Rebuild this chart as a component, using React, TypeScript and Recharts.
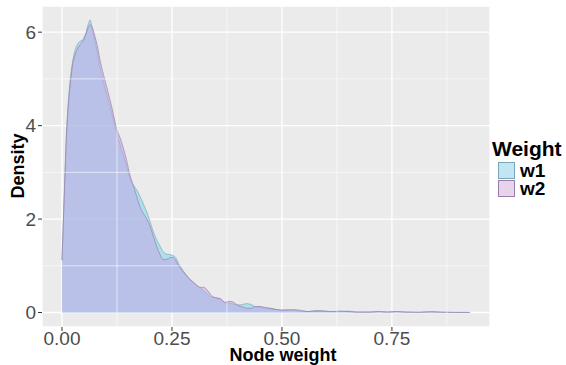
import { Area, AreaChart, CartesianGrid, Label, ReferenceLine, XAxis, YAxis } from "recharts";

const FONT = "'Liberation Sans', Arial, sans-serif";

// density estimates
const nodeWeight = [
  0, 0.005, 0.01, 0.015, 0.02, 0.025, 0.03, 0.035, 0.04, 0.045, 0.05, 0.055, 0.06, 0.064, 0.068, 0.075,
  0.08, 0.086, 0.094, 0.1, 0.105, 0.113, 0.12, 0.125, 0.132, 0.14, 0.147, 0.155, 0.162, 0.17, 0.177,
  0.185, 0.193, 0.2, 0.208, 0.215, 0.223, 0.23, 0.238, 0.245, 0.252, 0.258, 0.265, 0.275, 0.285, 0.295,
  0.305, 0.314, 0.322, 0.33, 0.34, 0.352, 0.36, 0.37, 0.38, 0.39, 0.4, 0.41, 0.42, 0.43, 0.44, 0.45,
  0.46, 0.475, 0.49, 0.5, 0.515, 0.53, 0.545, 0.56, 0.575, 0.59, 0.61, 0.63, 0.65, 0.67, 0.7, 0.72,
  0.74, 0.76, 0.78, 0.81, 0.84, 0.86, 0.89, 0.927,
];
const w1 = [
  1.12, 2.5, 3.8, 4.6, 5.1, 5.42, 5.62, 5.74, 5.8, 5.82, 5.88, 6.0, 6.18, 6.26, 6.1, 5.8,
  5.58, 5.26, 4.95, 4.72, 4.55, 4.27, 4.0, 3.82, 3.59, 3.35, 3.13, 2.86, 2.73, 2.62, 2.49,
  2.32, 2.14, 1.95, 1.72, 1.56, 1.42, 1.3, 1.25, 1.24, 1.22, 1.18, 1.05, 0.9, 0.78, 0.66,
  0.58, 0.53, 0.46, 0.4, 0.33, 0.31, 0.28, 0.21, 0.2, 0.18, 0.16, 0.17, 0.19, 0.17, 0.12, 0.11,
  0.1, 0.09, 0.06, 0.05, 0.05, 0.04, 0.03, 0.02, 0.04, 0.04, 0.02, 0.02, 0.03, 0.01, 0.01, 0.02,
  0.01, 0.02, 0.01, 0.005, 0.01, 0.005, 0.003, 0.002,
];
const w2 = [
  1.12, 2.45, 3.75, 4.5, 5.0, 5.35, 5.52, 5.64, 5.72, 5.78, 5.85, 5.98, 6.1, 6.16, 6.12, 5.9,
  5.72, 5.42, 5.1, 4.88, 4.7, 4.4, 4.1, 3.9, 3.74, 3.5, 3.25, 2.92, 2.72, 2.48, 2.27,
  2.12, 2.0, 1.85, 1.62, 1.42, 1.24, 1.13, 1.14, 1.17, 1.18, 1.12, 1.0, 0.88, 0.76, 0.68,
  0.6, 0.54, 0.54, 0.48, 0.36, 0.31, 0.3, 0.22, 0.24, 0.22, 0.15, 0.12, 0.09, 0.09, 0.13, 0.13,
  0.11, 0.08, 0.06, 0.05, 0.06, 0.06, 0.04, 0.02, 0.03, 0.03, 0.02, 0.03, 0.02, 0.01, 0.01, 0.02,
  0.01, 0.02, 0.01, 0.005, 0.02, 0.01, 0.003, 0.002,
];

const xTicks = [0, 0.25, 0.5, 0.75];
const xMinor = [0.125, 0.375, 0.625, 0.875];
const yTicks = [0, 2, 4, 6];
const yMinor = [1, 3, 5];
const legendItems = [
  { key: "w1", fill: "#6DD7ED", stroke: "#7AA6B8", swatch: "#BFE6F2" },
  { key: "w2", fill: "#C8A2E4", stroke: "#9C7EAA", swatch: "#E6D3EC" },
];

const data = nodeWeight.map((x, i) => ({ x, w1: w1[i], w2: w2[i] }));

const tickStyle = { fontSize: 19, fill: "#4D4D4D", fontFamily: FONT };

export default function App() {
  return (
    <div style={{ position: "absolute", left: 0, top: 0, width: 566, height: 365, background: "#fff", fontFamily: FONT }}>
      <AreaChart width={566} height={365} data={data} margin={{ top: 6, right: 76, bottom: 0, left: 0 }}>
        <CartesianGrid stroke="#FFFFFF" strokeWidth={1.3} fill="#EBEBEB" fillOpacity={1} />
        {xMinor.map((v) => (
          <ReferenceLine key={`xm${v}`} x={v} stroke="#FFFFFF" strokeWidth={0.6} />
        ))}
        {yMinor.map((v) => (
          <ReferenceLine key={`ym${v}`} y={v} stroke="#FFFFFF" strokeWidth={0.6} />
        ))}
        <XAxis
          dataKey="x"
          type="number"
          domain={[-0.0455, 0.973]}
          ticks={xTicks}
          allowDataOverflow
          height={38}
          axisLine={false}
          tickLine={{ stroke: "#333333" }}
          tickSize={4}
          tickMargin={1}
          tick={tickStyle}
          tickFormatter={(v: number) => v.toFixed(2)}
        >
          <Label
            content={() => (
              <text x={283} y={361} textAnchor="middle" fontSize={18} fontWeight="bold" fill="#000" fontFamily={FONT}>
                Node weight
              </text>
            )}
          />
        </XAxis>
        <YAxis
          type="number"
          domain={[-0.31, 6.56]}
          ticks={yTicks}
          allowDataOverflow
          width={42}
          axisLine={false}
          tickLine={{ stroke: "#333333" }}
          tickSize={4}
          tickMargin={2}
          tick={tickStyle}
        >
          <Label
            content={() => (
              <text
                x={24}
                y={166}
                transform="rotate(-90 24 166)"
                textAnchor="middle"
                fontSize={18}
                fontWeight="bold"
                fill="#000"
                fontFamily={FONT}
              >
                Density
              </text>
            )}
          />
        </YAxis>
        {legendItems.map((s) => (
          <Area
            key={s.key}
            type="monotone"
            dataKey={s.key}
            baseValue={0}
            fill={s.fill}
            fillOpacity={0.5}
            stroke={s.stroke}
            strokeWidth={0.7}
            isAnimationActive={false}
            dot={false}
            activeDot={false}
          />
        ))}
      </AreaChart>
      <div style={{ position: "absolute", left: 492, top: 137, fontSize: 21, fontWeight: "bold", color: "#000", lineHeight: "24px" }}>
        Weight
      </div>
      {legendItems.map((s, i) => (
        <div key={s.key} style={{ position: "absolute", left: 498, top: 161 + i * 18, height: 18, display: "flex", alignItems: "center" }}>
          <div style={{ width: 17, height: 17, background: s.swatch, border: `1px solid ${s.stroke}`, boxSizing: "border-box" }} />
          <span style={{ marginLeft: 5, fontSize: 19, fontWeight: "bold", lineHeight: "17px" }}>{s.key}</span>
        </div>
      ))}
    </div>
  );
}
